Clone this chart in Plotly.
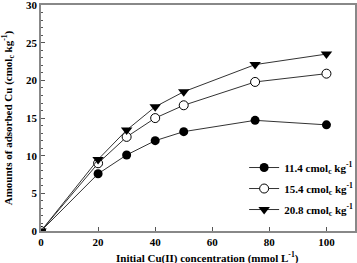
import plotly.graph_objects as go

conc = [0, 20, 30, 40, 50, 75, 100]
s_11_4 = [0, 7.6, 10.1, 12.0, 13.2, 14.7, 14.1]
s_15_4 = [0, 9.0, 12.5, 15.0, 16.7, 19.8, 20.9]
s_20_8 = [0, 9.5, 13.4, 16.5, 18.5, 22.1, 23.5]
names = ["11.4 cmol<sub>c</sub> kg<sup>-1</sup>",
         "15.4 cmol<sub>c</sub> kg<sup>-1</sup>",
         "20.8 cmol<sub>c</sub> kg<sup>-1</sup>"]
yticks = [0, 5, 10, 15, 20, 25, 30]
xticks = [0, 20, 40, 60, 80, 100]
xtitle = "Initial Cu(II) concentration (mmol L<sup>-1</sup>)"
ytitle = "Amounts of adsorbed Cu (cmol<sub>c</sub> kg<sup>-1</sup>)"

FONT = "Liberation Serif"
fig = go.Figure()
fig.add_trace(go.Scatter(x=conc, y=s_11_4, name=names[0], mode="lines+markers",
                         legendgroup="a",
                         line=dict(color="#333", width=1),
                         marker=dict(symbol="circle", size=9, color="black")))
fig.add_trace(go.Scatter(x=conc, y=s_15_4, name=names[1], mode="lines+markers",
                         legendgroup="b",
                         line=dict(color="#333", width=1),
                         marker=dict(symbol="circle", size=9, color="white",
                                     line=dict(color="black", width=1))))
fig.add_trace(go.Scatter(x=conc, y=s_20_8, name=names[2], mode="lines+markers",
                         legendgroup="c",
                         line=dict(color="#333", width=1),
                         marker=dict(symbol="triangle-down", size=10, color="black")))

fig.add_annotation(text=xtitle, xref="paper", yref="paper", x=0.53, y=-0.075,
                   xanchor="center", yanchor="top", showarrow=False,
                   font=dict(family=FONT, size=11, weight="bold"))

fig.update_layout(
    width=357, height=263,
    margin=dict(l=41, r=2, t=5, b=32, autoexpand=False),
    plot_bgcolor="white", paper_bgcolor="white",
    font=dict(family=FONT, size=11, color="black"),
    showlegend=True,
    legend=dict(x=1.01, y=0.345, xanchor="right", yanchor="top",
                bgcolor="rgba(0,0,0,0)", font=dict(family=FONT, size=11, weight="bold"),
                tracegroupgap=2, itemwidth=30),
    xaxis=dict(range=[0, 110], tickvals=xticks, automargin=False,
               ticks="inside", ticklen=4, tickcolor="#555",
               ticklabeloverflow="allow",
               showline=True, linecolor="#888", linewidth=1.5, mirror=True,
               showgrid=False, zeroline=False,
               tickfont=dict(family=FONT, size=11, weight="bold")),
    yaxis=dict(range=[0, 30.02], tickvals=yticks, automargin=False,
               ticks="inside", ticklen=4, tickcolor="#555",
               ticklabeloverflow="allow",
               minor=dict(dtick=1, ticks="inside", ticklen=2, tickcolor="#555"),
               showline=True, linecolor="#888", linewidth=1.5, mirror=True,
               showgrid=False, zeroline=False,
               tickfont=dict(family=FONT, size=11, weight="bold"),
               title=dict(text=ytitle,
                          font=dict(family=FONT, size=11, weight="bold"))),
)
fig.write_html("out.html")
